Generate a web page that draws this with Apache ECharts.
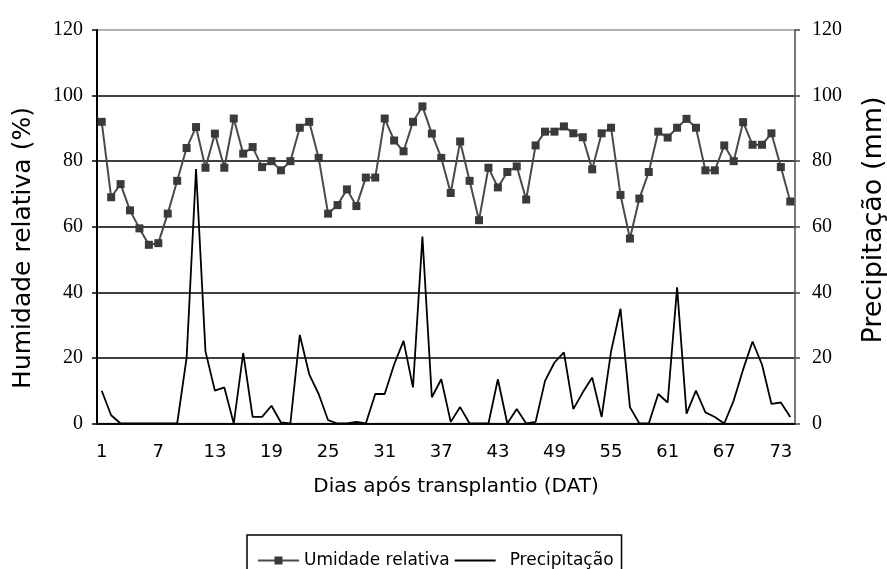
<!DOCTYPE html>
<html>
<head>
<meta charset="utf-8">
<script src="https://cdn.jsdelivr.net/npm/echarts@6/dist/echarts.min.js"></script>
<style>
  html, body { margin: 0; padding: 0; background: #fff; }
  #chart { width: 887px; height: 569px; }
</style>
</head>
<body>
<div id="chart"></div>
<script>
const days = ['1','2','3','4','5','6','7','8','9','10','11','12','13','14','15','16','17','18','19','20',
  '21','22','23','24','25','26','27','28','29','30','31','32','33','34','35','36','37','38','39','40',
  '41','42','43','44','45','46','47','48','49','50','51','52','53','54','55','56','57','58','59','60',
  '61','62','63','64','65','66','67','68','69','70','71','72','73','74'];

const umidade = [92, 69, 73, 65, 59.5, 54.5, 55, 64, 74, 84, 90.4, 78, 88.4, 78, 93, 82.3, 84.3, 78.2, 80, 77.2,
  80, 90.2, 92, 81, 64, 66.6, 71.4, 66.3, 75, 75, 93, 86.3, 83, 92, 96.7, 88.4, 81, 70.3, 86, 74,
  62, 78, 72, 76.7, 78.4, 68.3, 84.8, 89, 89, 90.6, 88.5, 87.3, 77.5, 88.5, 90.2, 69.7, 56.4, 68.6, 76.7, 89,
  87.2, 90.2, 92.9, 90.2, 77.2, 77.2, 84.8, 80, 91.9, 85, 85, 88.5, 78.2, 67.7];

const precipitacao = [10, 2.5, 0, 0, 0, 0, 0, 0, 0, 20, 77.6, 22, 10, 11, 0, 21.5, 2, 2, 5.4, 0.3,
  0, 27, 15, 9, 1, 0, 0, 0.5, 0, 9, 9, 18, 25.2, 11, 57, 8, 13.5, 0.5, 5, 0,
  0, 0, 13.5, 0, 4.4, 0, 0.5, 13, 18.6, 21.7, 4.4, 9.5, 14, 2, 22, 35, 5, 0, 0, 9,
  6.4, 41.5, 3, 10, 3.4, 2, 0, 7, 16.5, 25, 18, 6, 6.4, 2];

const yTicks = [0, 20, 40, 60, 80, 100, 120];

const chart = echarts.init(document.getElementById('chart'));
const sans = 'DejaVu Sans';
const serif = 'Liberation Serif';

chart.setOption({
  animation: false,
  backgroundColor: '#fff',
  grid: {
    left: 97, right: 92, top: 30, bottom: 145.5,
    show: true, borderColor: '#999', borderWidth: 1.5, backgroundColor: 'transparent'
  },
  xAxis: {
    type: 'category',
    data: days,
    boundaryGap: true,
    axisLine: { lineStyle: { color: '#000', width: 1.5 } },
    axisTick: { interval: 5, length: 6, lineStyle: { color: '#000', width: 1.5 } },
    axisLabel: { interval: 5, color: '#000', fontFamily: sans, fontSize: 18, margin: 20 },
    splitLine: { show: false }
  },
  yAxis: [
    {
      type: 'value',
      position: 'left',
      min: yTicks[0], max: yTicks[yTicks.length - 1], interval: yTicks[1] - yTicks[0],
      axisLine: { show: true, lineStyle: { color: '#000', width: 2 } },
      axisTick: { show: true, length: 5, lineStyle: { color: '#000', width: 1.5 } },
      axisLabel: { color: '#000', fontFamily: serif, fontSize: 20, margin: 14 },
      splitLine: { show: true, showMaxLine: false, lineStyle: { color: '#000', width: 1.5 } }
    },
    {
      type: 'value',
      position: 'right',
      min: yTicks[0], max: yTicks[yTicks.length - 1], interval: yTicks[1] - yTicks[0],
      axisLine: { show: true, lineStyle: { color: '#666', width: 1.5 } },
      axisTick: { show: true, length: 5, lineStyle: { color: '#444', width: 1.5 } },
      axisLabel: { color: '#000', fontFamily: serif, fontSize: 20, margin: 17 },
      splitLine: { show: false }
    }
  ],
  legend: {
    left: 247, top: 535,
    orient: 'horizontal',
    backgroundColor: '#fff',
    borderColor: '#000', borderWidth: 1.5, borderRadius: 0,
    padding: [17, 8, 14, 10],
    itemWidth: 41, itemHeight: 10, itemGap: 4,
    textStyle: { fontFamily: sans, fontSize: 17, color: '#000' },
    data: [
      { name: 'Umidade relativa' },
      { name: 'Precipitação', textStyle: { padding: [0, 0, 0, 9] },
        itemStyle: { color: 'rgba(0,0,0,0)', borderWidth: 0, opacity: 0 } }
    ]
  },
  graphic: [
    {
      type: 'text', x: 23, y: 248, rotation: Math.PI / 2,
      style: { text: 'Humidade relativa (%)', font: '25px "DejaVu Sans"', fill: '#000',
        align: 'center', verticalAlign: 'middle', textAlign: 'center', textVerticalAlign: 'middle' }
    },
    {
      type: 'text', x: 874, y: 220, rotation: Math.PI / 2,
      style: { text: 'Precipitação (mm)', font: '27px "DejaVu Sans"', fill: '#000',
        align: 'center', verticalAlign: 'middle', textAlign: 'center', textVerticalAlign: 'middle' }
    },
    {
      type: 'text', x: 456, y: 487,
      style: { text: 'Dias após transplantio (DAT)', font: '20px "DejaVu Sans"', fill: '#000',
        align: 'center', verticalAlign: 'middle', textAlign: 'center', textVerticalAlign: 'middle' }
    }
  ],
  series: [
    {
      name: 'Umidade relativa',
      type: 'line',
      yAxisIndex: 0,
      data: umidade,
      symbol: 'rect',
      symbolSize: 8,
      showAllSymbol: true,
      lineStyle: { color: '#4a4a4a', width: 2 },
      itemStyle: { color: '#3a3a3a' },
      z: 3
    },
    {
      name: 'Precipitação',
      type: 'line',
      yAxisIndex: 1,
      data: precipitacao,
      symbol: 'none',
      lineStyle: { color: '#000', width: 1.8 },
      itemStyle: { color: '#000' },
      z: 2
    }
  ]
});
</script>
</body>
</html>
